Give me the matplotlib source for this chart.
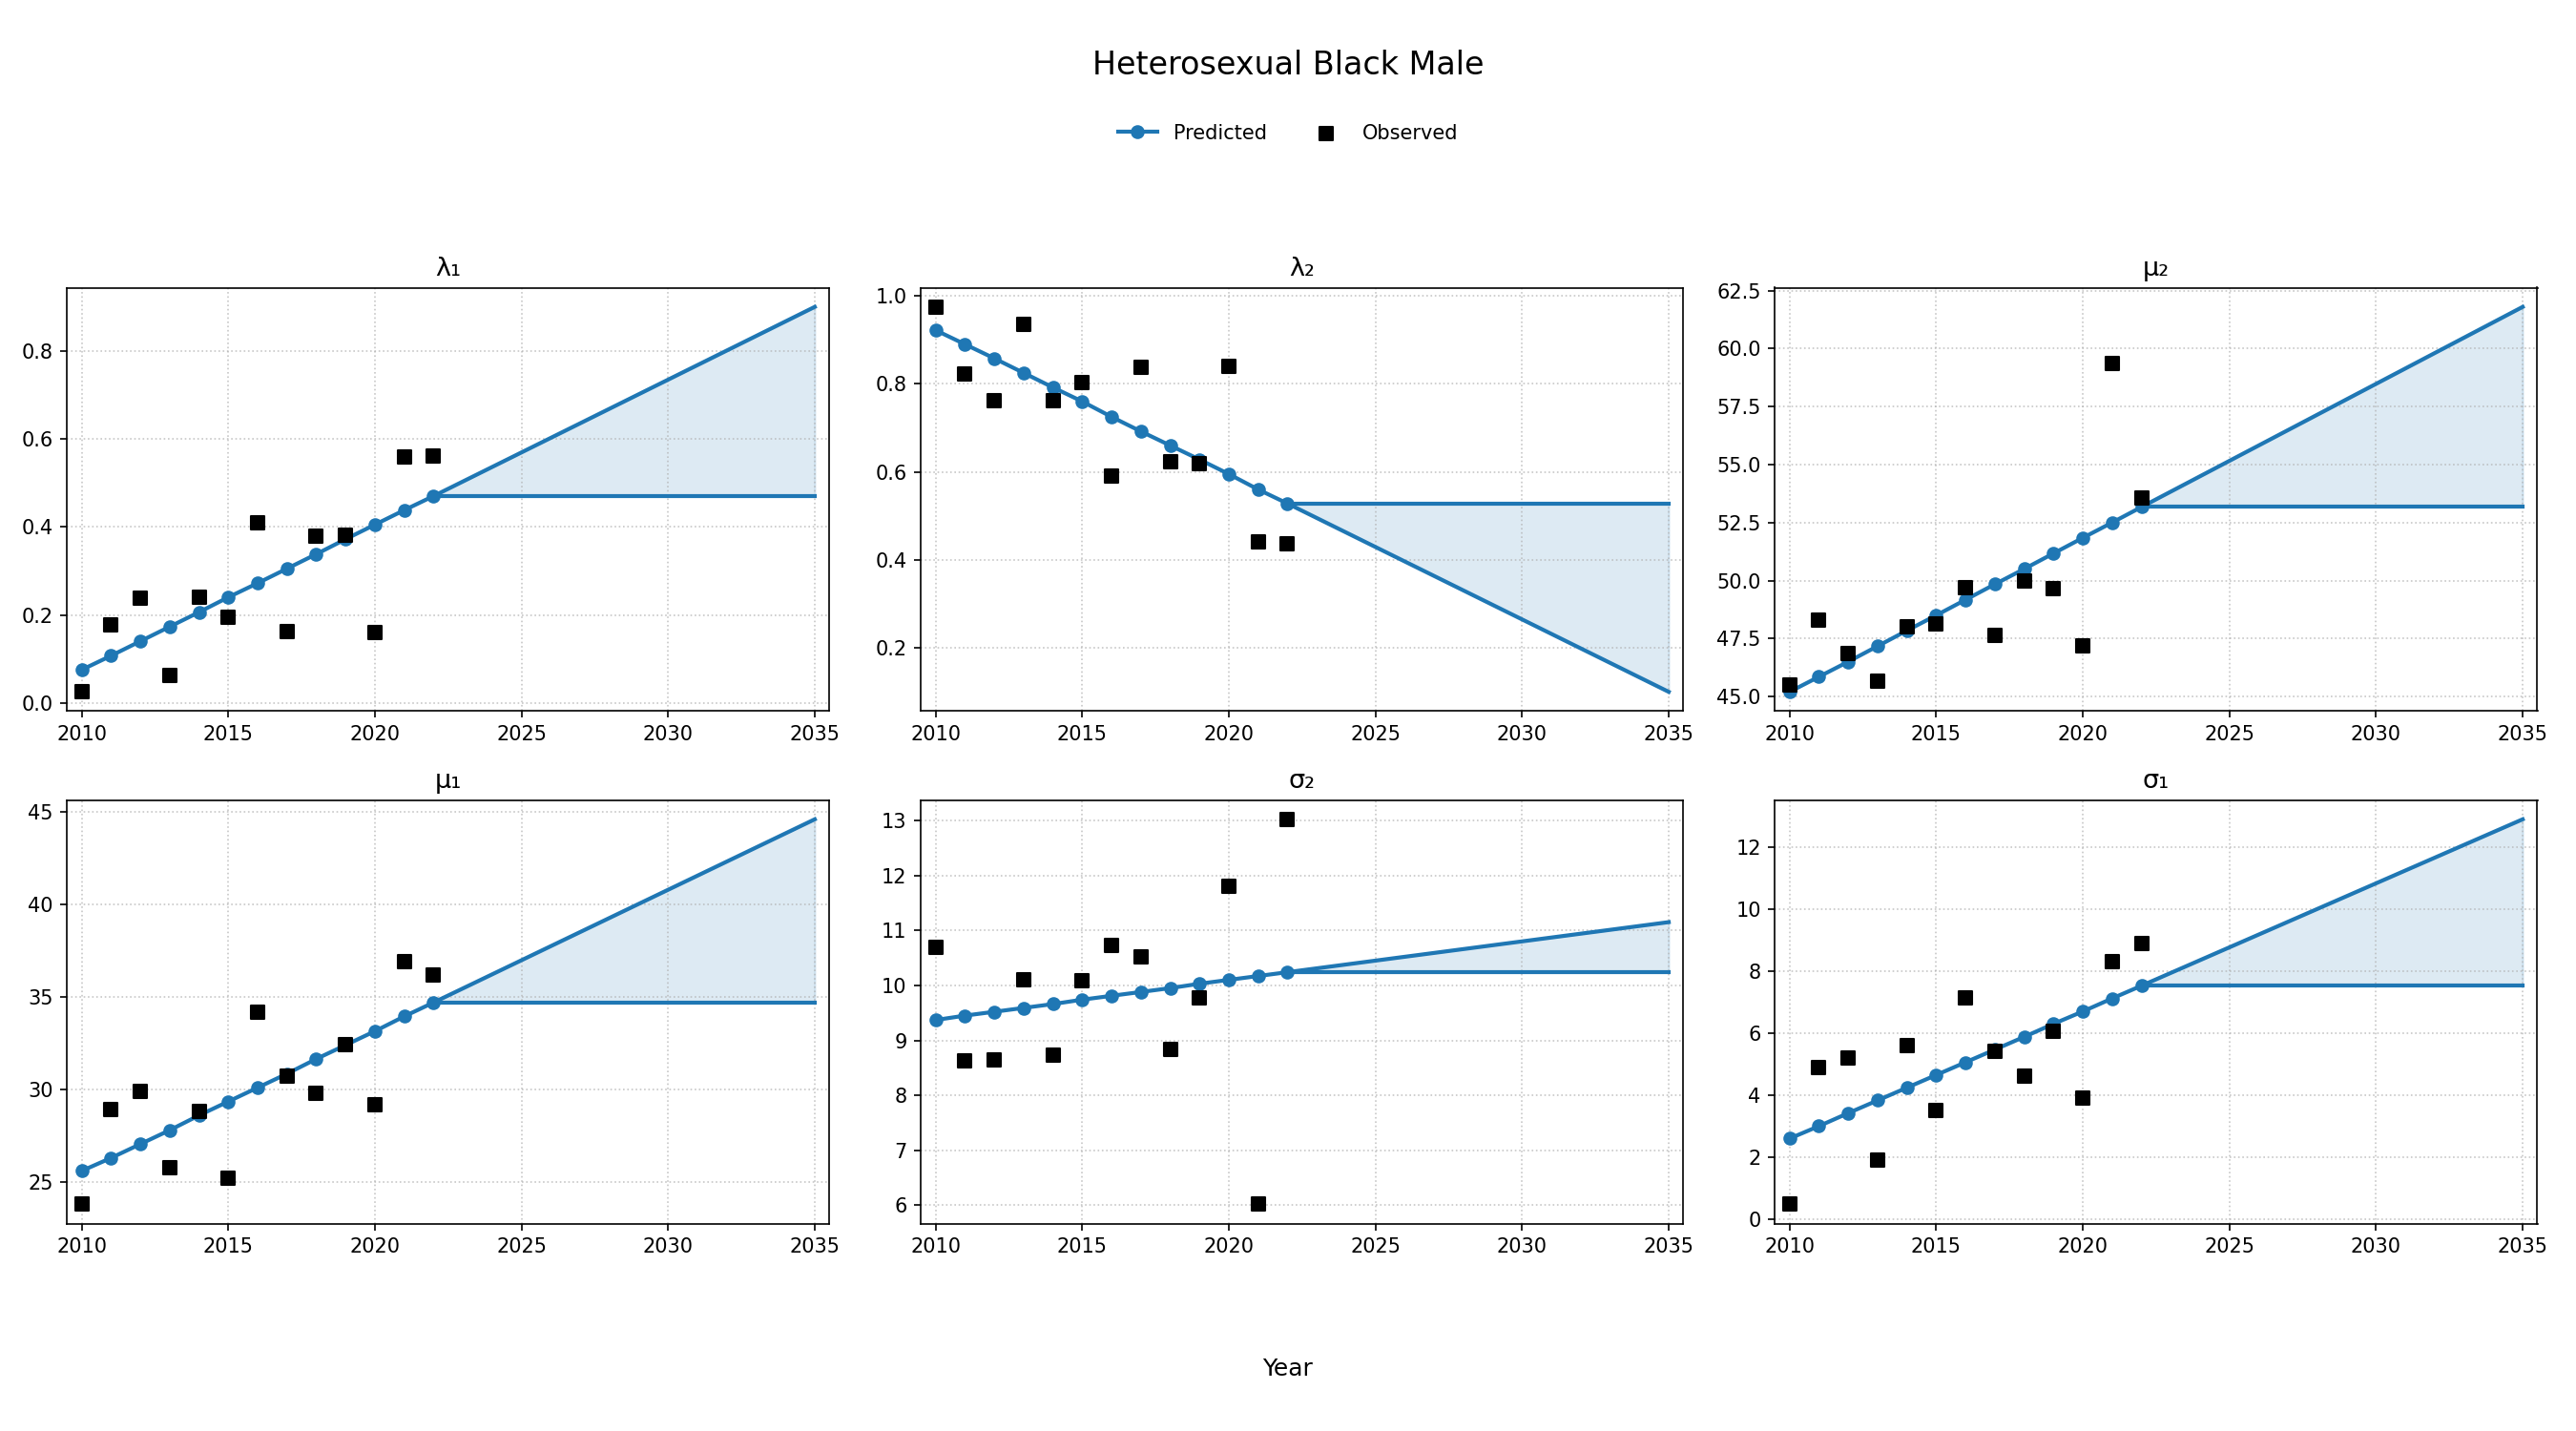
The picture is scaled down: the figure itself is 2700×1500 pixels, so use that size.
import matplotlib.pyplot as plt
import numpy as np

years = np.arange(2010, 2023)
fc_years = [2022, 2035]

titles = ["λ₁", "λ₂", "μ₂", "μ₁", "σ₂", "σ₁"]

# predicted values per parameter
pred_lam1 = [0.075, 0.107, 0.140, 0.173, 0.206, 0.240, 0.272, 0.305, 0.338, 0.372, 0.405, 0.438, 0.470]
pred_lam2 = [0.922, 0.890, 0.858, 0.825, 0.792, 0.760, 0.725, 0.692, 0.660, 0.628, 0.595, 0.560, 0.528]
pred_mu2 = [45.2, 45.85, 46.5, 47.17, 47.84, 48.5, 49.17, 49.84, 50.5, 51.17, 51.84, 52.5, 53.17]
pred_mu1 = [25.6, 26.3, 27.05, 27.8, 28.6, 29.35, 30.1, 30.85, 31.65, 32.4, 33.15, 33.95, 34.7]
pred_sig2 = [9.37, 9.45, 9.52, 9.59, 9.66, 9.74, 9.81, 9.88, 9.95, 10.03, 10.10, 10.17, 10.24]
pred_sig1 = [2.6, 3.0, 3.42, 3.83, 4.24, 4.65, 5.06, 5.47, 5.88, 6.3, 6.7, 7.12, 7.53]

# observed values
obs_lam1 = [0.025, 0.178, 0.237, 0.063, 0.240, 0.195, 0.410, 0.163, 0.378, 0.382, 0.160, 0.558, 0.560]
obs_lam2 = [0.975, 0.822, 0.762, 0.935, 0.762, 0.803, 0.590, 0.838, 0.622, 0.618, 0.840, 0.440, 0.437]
obs_mu2 = [45.5, 48.3, 46.85, 45.65, 48.0, 48.15, 49.7, 47.65, 50.0, 49.65, 47.2, 59.35, 53.55]
obs_mu1 = [23.8, 28.9, 29.9, 25.8, 28.8, 25.2, 34.2, 30.7, 29.8, 32.4, 29.2, 36.9, 36.2]
obs_sig2 = [10.7, 8.63, 8.65, 10.1, 8.73, 10.08, 10.72, 10.52, 8.83, 9.78, 11.8, 6.02, 13.02]
obs_sig1 = [0.48, 4.9, 5.2, 1.9, 5.6, 3.5, 7.15, 5.4, 4.6, 6.05, 3.9, 8.3, 8.9]

# trend value reached in 2035
trend_2035 = [0.90, 0.10, 61.8, 44.6, 11.15, 12.9]

preds = [pred_lam1, pred_lam2, pred_mu2, pred_mu1, pred_sig2, pred_sig1]
obss = [obs_lam1, obs_lam2, obs_mu2, obs_mu1, obs_sig2, obs_sig1]

fig, axes = plt.subplots(2, 3, figsize=(18, 10), dpi=150)
fig.subplots_adjust(left=0.026, right=0.985, top=0.799, bottom=0.145,
                    wspace=0.12, hspace=0.21)

for ax, title, pred, obs, end in zip(axes.flat, titles, preds, obss, trend_2035):
    last = pred[-1]
    ax.plot(years, pred, color='#1f77b4', marker='o', markersize=6, linewidth=2,
            label='Predicted')
    ax.scatter(years, obs, color='black', marker='s', s=40, zorder=3,
               label='Observed')
    ax.plot(fc_years, [last, end], color='#1f77b4', linewidth=2)
    ax.plot(fc_years, [last, last], color='#1f77b4', linewidth=2)
    ax.fill_between(fc_years, [last, last], [last, end], color='#1f77b4',
                    alpha=0.15)
    ax.set_title(title, fontsize=13)
    ax.grid(True, linestyle=':', alpha=0.7)
    ax.margins(x=0.02)
    ax.set_xticks([2010, 2015, 2020, 2025, 2030, 2035])
    ax.tick_params(labelsize=10)

fig.suptitle("Heterosexual Black Male", fontsize=16, y=0.965)
handles, labels = axes[0, 0].get_legend_handles_labels()
fig.legend(handles, labels, loc='center', bbox_to_anchor=(0.5, 0.907), ncol=2,
           frameon=False, fontsize=10)
fig.supxlabel("Year", fontsize=12, y=0.035)

plt.savefig('out.png', dpi=150)
